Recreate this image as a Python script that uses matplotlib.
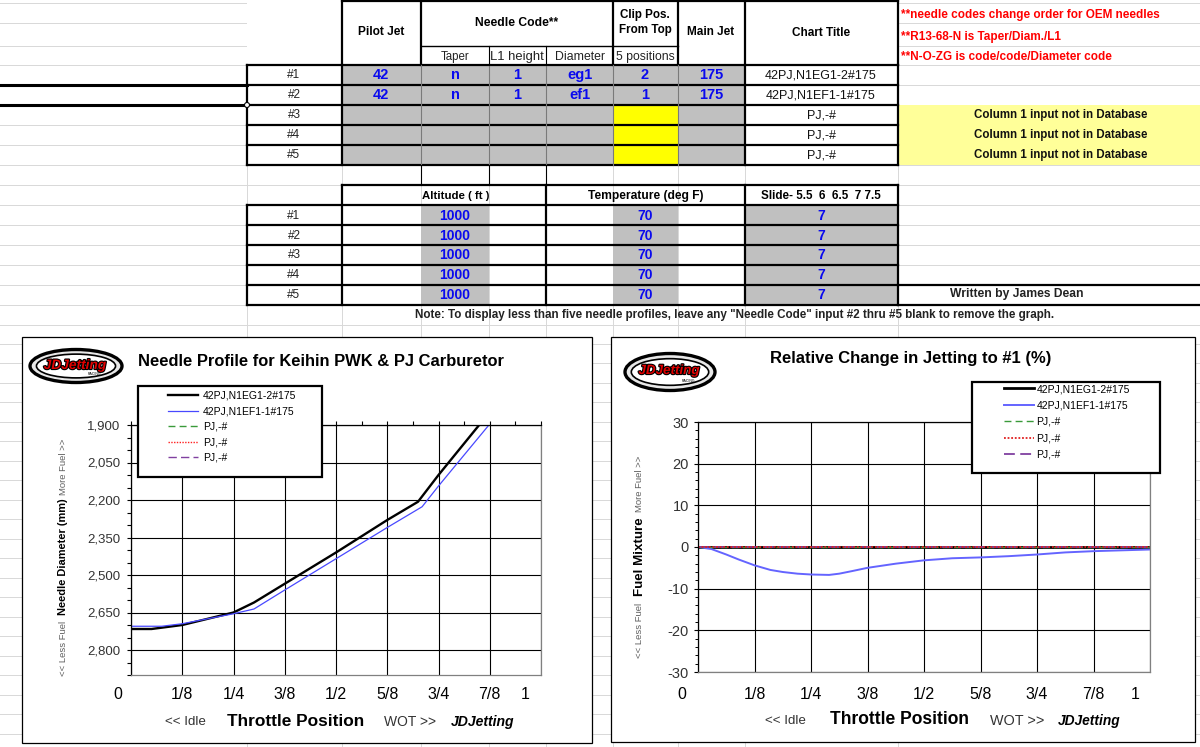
import matplotlib
matplotlib.use('Agg')
import matplotlib.pyplot as plt
from matplotlib.patches import Rectangle, Ellipse, Circle
from matplotlib.ticker import FuncFormatter, MultipleLocator
import matplotlib.transforms as mtransforms
import matplotlib.patheffects as pe
from matplotlib import font_manager

plt.rcParams['font.family'] = ['Liberation Sans', 'DejaVu Sans']
plt.rcParams['axes.unicode_minus'] = False
_names = {f.name for f in font_manager.fontManager.ttflist}
NARROW = 'Liberation Sans Narrow' if 'Liberation Sans Narrow' in _names else 'Liberation Sans'

# ---------------- data ----------------
row_labels = ['#1', '#2', '#3', '#4', '#5']
pilot_jet = ['42', '42', '', '', '']
taper = ['n', 'n', '', '', '']
l1_height = ['1', '1', '', '', '']
diameter = ['eg1', 'ef1', '', '', '']
clip_pos = ['2', '1', '', '', '']
main_jet = ['175', '175', '', '', '']
chart_titles = ['42PJ,N1EG1-2#175', '42PJ,N1EF1-1#175', 'PJ,-#', 'PJ,-#', 'PJ,-#']
db_messages = ['', '', 'Column 1 input not in Database',
               'Column 1 input not in Database', 'Column 1 input not in Database']
altitude = ['1000', '1000', '1000', '1000', '1000']
temperature = ['70', '70', '70', '70', '70']
slide = ['7', '7', '7', '7', '7']
notes = ['**needle codes change order for OEM needles',
         '**R13-68-N is Taper/Diam./L1',
         '**N-O-ZG is code/code/Diameter code']

throttle_ticks = [0, 0.125, 0.25, 0.375, 0.5, 0.625, 0.75, 0.875, 1.0]
throttle_labels = ['0', '1/8', '1/4', '3/8', '1/2', '5/8', '3/4', '7/8', '1']
needle_ticks = [1.9, 2.05, 2.2, 2.35, 2.5, 2.65, 2.8]
rel_ticks = [-30, -20, -10, 0, 10, 20, 30]

# needle profile (diameter, mm) vs throttle position
throttle_1 = [0, 0.05, 0.125, 0.25, 0.30, 0.375, 0.5, 0.625, 0.70, 0.75, 0.875]
needle_1 = [2.716, 2.716, 2.700, 2.650, 2.610, 2.535, 2.410, 2.280, 2.207, 2.100, 1.848]
throttle_2 = [0, 0.075, 0.125, 0.25, 0.30, 0.375, 0.5, 0.625, 0.71, 0.75, 0.875]
needle_2 = [2.705, 2.705, 2.695, 2.655, 2.636, 2.560, 2.435, 2.310, 2.227, 2.144, 1.896]
pj_throttle = []
pj_needle = []

# relative change in jetting to #1 (%)
rel_throttle = [0, 0.03, 0.0625, 0.09, 0.125, 0.16, 0.1875, 0.22, 0.25, 0.29, 0.3125,
                0.34, 0.375, 0.4375, 0.5, 0.5625, 0.625, 0.6875, 0.75, 0.8125,
                0.875, 0.9375, 1.0]
rel_2 = [0, -0.5, -1.8, -3.0, -4.4, -5.5, -6.0, -6.4, -6.6, -6.7, -6.4,
         -5.8, -5.0, -4.0, -3.2, -2.7, -2.5, -2.2, -1.8, -1.3,
         -1.0, -0.8, -0.6]
rel_ref_throttle = [0, 1.0]
rel_1 = [0, 0]
rel_pj = [0, 0]

# ---------------- figure ----------------
fig = plt.figure(figsize=(12, 7.47), dpi=100)
ax0 = fig.add_axes([0, 0, 1, 1], zorder=0)
ax0.set_xlim(0, 1200)
ax0.set_ylim(747, 0)
ax0.axis('off')
renderer = fig.canvas.get_renderer()

THICK = 1.6
THIN = 0.8
GRAY = '#c0c0c0'
BLUE = '#0a0aee'


def hl(y, x0, x1, lw=THIN, c='black', z=2):
    ax0.plot([x0, x1], [y, y], color=c, lw=lw, zorder=z, solid_capstyle='projecting')


def vl(x, y0, y1, lw=THIN, c='black', z=2):
    ax0.plot([x, x], [y0, y1], color=c, lw=lw, zorder=z, solid_capstyle='projecting')


def fill(x0, y0, x1, y1, c):
    ax0.add_patch(Rectangle((x0, y0), x1 - x0, y1 - y0, fc=c, ec='none', zorder=1))


def put(x, y, s, w=None, size=9, rot=0, ha='center', va='center', z=3, **kw):
    t = ax0.text(x, y, s, fontsize=size, ha=ha, va=va, rotation=rot, zorder=z, **kw)
    if w and s:
        bb = t.get_window_extent(renderer)
        cur = bb.height if rot else bb.width
        t.set_fontsize(size * w / cur)
    return t


# spreadsheet gridlines
row_lines = [3, 23, 46] + list(range(65, 330, 20))
y = 324
while y < 747:
    y += 19.5
    row_lines.append(y)
for y in row_lines:
    hl(y, 0, 1200, lw=0.7, c='#d8d8d8', z=0.5)
for x in [247, 342, 421, 489, 546, 613, 678, 745, 898]:
    vl(x, 0, 747, lw=0.7, c='#d8d8d8', z=0.5)

# ---- top table ----
fill(247, 0, 898, 65, 'white')
fill(342, 65, 745, 165, GRAY)
fill(613, 105, 678, 165, '#ffff00')
fill(898, 105, 1200, 165, '#ffff99')
fill(247, 65, 342, 165, 'white')
fill(745, 65, 898, 165, 'white')

hl(1, 342, 898, THICK)
for y in [65, 85, 105, 125, 145, 165]:
    hl(y, 247, 898, THICK)
vl(247, 65, 165, THICK)
for x in [342, 421, 613, 678, 745, 898]:
    vl(x, 1, 65, THICK)
for x in [342, 745, 898]:
    vl(x, 65, 165, THICK)
for x in [421, 489, 546, 613, 678]:
    vl(x, 65, 165, 0.8, '#7a7a7a')
hl(46, 421, 678, 1.0)
for x in [489, 546]:
    vl(x, 46, 65, THIN)
hl(85, 0, 247, 2.2)
hl(105, 0, 247, 2.2)
ax0.add_patch(Circle((247, 105), 2.5, fc='white', ec='black', lw=0.8, zorder=4))

put(381, 32, 'Pilot Jet', w=46, fontweight='bold')
put(517, 23, 'Needle Code**', w=83, fontweight='bold')
put(645, 15, 'Clip Pos.', w=50, fontweight='bold')
put(645, 30, 'From Top', w=53, fontweight='bold')
put(711, 32, 'Main Jet', w=47, fontweight='bold')
put(821, 33, 'Chart Title', w=58, fontweight='bold')
put(455, 57, 'Taper', w=29, color='#222222')
put(517, 57, 'L1 height', w=54, color='#222222')
put(580, 57, 'Diameter', w=50, color='#222222')
put(645, 57, '5 positions', w=59, color='#222222')
for i, (s, w) in enumerate(zip(notes, [257, 160, 209])):
    put(901, [15, 37, 57][i], s, w=w, ha='left', color='#ff0000', fontweight='bold')

ct = None
for i in range(5):
    yc = 75 + 20 * i
    put(294, yc, row_labels[i], size=8.5, color='#222222')
    put(381, yc, pilot_jet[i], size=10.5, color=BLUE, fontweight='bold')
    put(455, yc, taper[i], size=10.5, color=BLUE, fontweight='bold')
    put(517, yc, l1_height[i], size=10.5, color=BLUE, fontweight='bold')
    put(580, yc, diameter[i], size=10.5, color=BLUE, fontweight='bold')
    put(645, yc, clip_pos[i], size=10.5, color=BLUE, fontweight='bold')
    put(711, yc, main_jet[i], size=10.5, color=BLUE, fontweight='bold')
    if ct is None:
        ct = put(821, yc, chart_titles[i], w=112, color='#111111')
    else:
        put(821, yc, chart_titles[i], size=ct.get_fontsize(), color='#111111')
    if db_messages[i]:
        put(1061, yc, db_messages[i], w=173, fontweight='bold', color='#111111')

# ---- second table ----
fill(421, 205, 489, 305, GRAY)
fill(613, 205, 678, 305, GRAY)
fill(745, 205, 898, 305, GRAY)
hl(185, 342, 898, THICK)
for y in [205, 225, 245, 265, 285, 305]:
    hl(y, 247, 898, THICK)
hl(285, 898, 1200, THICK)
hl(305, 898, 1200, THICK)
vl(247, 205, 305, THICK)
for x in [342, 546, 745, 898]:
    vl(x, 185, 305, THICK)
for x in [421, 489, 546]:
    vl(x, 165, 185, THIN)

put(456, 196, 'Altitude ( ft )', w=67, family=NARROW, fontweight='bold')
put(646, 196, 'Temperature (deg F)', w=115, family=NARROW, fontweight='bold')
put(821, 196, 'Slide- 5.5  6  6.5  7 7.5', w=119, family=NARROW, fontweight='bold')
for i in range(5):
    yc = 216 + 19.7 * i
    put(294, yc, row_labels[i], size=8.5, family=NARROW, color='#222222')
    put(455, yc, altitude[i], size=10, family=NARROW, color=BLUE, fontweight='bold')
    put(645, yc, temperature[i], size=10, family=NARROW, color=BLUE, fontweight='bold')
    put(821, yc, slide[i], size=10, family=NARROW, color=BLUE, fontweight='bold')
put(1017, 294, 'Written by James Dean', w=133, family=NARROW, fontweight='bold', color='#222222')
put(735, 315, 'Note: To display less than five needle profiles, leave any "Needle Code" '
    'input #2 thru #5 blank to remove the graph.', w=638, family=NARROW,
    fontweight='bold', color='#222222')

# ---- chart frames ----
ax0.add_patch(Rectangle((22, 337), 570, 406, fc='white', ec='black', lw=0.9, zorder=5))
ax0.add_patch(Rectangle((611, 337), 584, 405, fc='white', ec='black', lw=0.9, zorder=5))


def logo(cx, cy, w, h):
    ax0.add_patch(Ellipse((cx, cy), w, h, fc='#e8e8e8', ec='black', lw=2.4, zorder=6))
    ax0.add_patch(Ellipse((cx, cy), w * 0.86, h * 0.72, fc='white', ec='black', lw=1.2, zorder=6))
    put(cx - 1, cy - 1, 'JDJetting', w=w * 0.68, size=9, z=7, color='#e00000',
        fontweight='bold', style='italic',
        path_effects=[pe.withStroke(linewidth=1.6, foreground='black')])
    put(cx + w * 0.2, cy + h * 0.25, 'RACING', size=2.5, z=7, color='black')


logo(76, 366, 92, 33)
logo(670, 372, 90, 37)

put(321, 361, 'Needle Profile for Keihin PWK & PJ Carburetor', w=366, z=6, fontweight='bold')
put(911, 359, 'Relative Change in Jetting to #1 (%)', w=282, z=6, fontweight='bold')

for (xc, yc, s, w, kw) in [
        (185, 722, '<< Idle', 41, dict(color='#333333')),
        (296, 721, 'Throttle Position', 137, dict(fontweight='bold')),
        (410, 722, 'WOT >>', 52, dict(color='#333333')),
        (483, 722, 'JDJetting', 64, dict(fontweight='bold', style='italic')),
        (785, 721, '<< Idle', 41, dict(color='#333333')),
        (900, 720, 'Throttle Position', 139, dict(fontweight='bold')),
        (1017, 721, 'WOT >>', 54, dict(color='#333333')),
        (1089, 721, 'JDJetting', 63, dict(fontweight='bold', style='italic'))]:
    put(xc, yc, s, w=w, size=10, z=6, **kw)

# rotated y labels
for (xc, yc, s, L, kw) in [
        (63, 557, 'Needle Diameter (mm)', 116, dict(fontweight='bold')),
        (640, 557, 'Fuel Mixture', 79, dict(fontweight='bold'))]:
    put(xc, yc, s, w=L, size=8, rot=90, z=6, **kw)
for (xc, yc, s) in [(63, 648, '<< Less Fuel'), (63, 467, 'More Fuel >>'),
                    (640, 630, '<< Less Fuel'), (640, 484, 'More Fuel >>')]:
    put(xc, yc, s, size=6.8, rot=90, z=6, color='#606060')


# ---------------- charts ----------------
def px_axes(l, t, r, b):
    return fig.add_axes([l / 1200, 1 - b / 747, (r - l) / 1200, (b - t) / 747], zorder=10)


def shift_labels(ax, first_px, last_px):
    labels = ax.get_xticklabels()
    labels[0].set_transform(labels[0].get_transform() +
                            mtransforms.ScaledTranslation(first_px / 100, 0, fig.dpi_scale_trans))
    labels[-1].set_transform(labels[-1].get_transform() +
                             mtransforms.ScaledTranslation(last_px / 100, 0, fig.dpi_scale_trans))


STYLES = [dict(color='black', lw=1.7, ls='-'),
          dict(color='#4848ff', lw=0.9, ls='-'),
          dict(color='#3a9a3a', lw=1.0, ls=(0, (5, 3))),
          dict(color='#ff2020', lw=1.0, ls=(0, (1, 1))),
          dict(color='#8040a0', lw=1.0, ls=(0, (6, 3)))]

# left chart
ax1 = px_axes(131, 425, 541, 675)
ax1.plot(throttle_1, needle_1, label=chart_titles[0], **STYLES[0])
ax1.plot(throttle_2, needle_2, label=chart_titles[1], **STYLES[1])
for k in range(3):
    ax1.plot(pj_throttle, pj_needle, label=chart_titles[2 + k], **STYLES[2 + k])
ax1.set_xlim(0, 1)
ax1.set_ylim(2.9, 1.9)
ax1.set_xticks(throttle_ticks)
ax1.set_xticklabels(throttle_labels)
ax1.xaxis.set_minor_locator(MultipleLocator(1 / 16))
ax1.set_yticks(needle_ticks)
ax1.yaxis.set_major_formatter(FuncFormatter(lambda v, p: f'{v:.3f}'.replace('.', ',')))
ax1.yaxis.set_minor_locator(MultipleLocator(0.05))
ax1.tick_params(axis='x', which='both', top=True, bottom=False, labeltop=False,
                labelbottom=True, direction='out', length=3, width=0.8)
ax1.tick_params(axis='x', which='major', labelsize=11.5, pad=5.5)
ax1.tick_params(axis='y', which='both', left=True, right=False, direction='out',
                length=3, width=0.8, labelsize=9.5, labelcolor='#333333', pad=4.5)
ax1.grid(True, which='major', color='black', lw=0.8)
for side, c in [('left', 'black'), ('top', 'black'), ('right', '#808080'), ('bottom', '#808080')]:
    ax1.spines[side].set_color(c)
    ax1.spines[side].set_linewidth(0.9)
shift_labels(ax1, -13, -16)
ax1.add_patch(Rectangle((138, 386), 184, 91, transform=ax0.transData, fc='white',
                        ec='black', lw=1.6, zorder=4, clip_on=False))
leg1 = ax1.legend(loc='upper left', bbox_to_anchor=(168, 391), bbox_transform=ax0.transData,
                  frameon=False, fontsize=7.5, handlelength=2.9, handletextpad=0.45,
                  labelspacing=0.52, borderpad=0, borderaxespad=0)
leg1.set_zorder(6)

# right chart
ax2 = px_axes(698, 422, 1150, 672)
ax2.plot(rel_ref_throttle, rel_1, label=chart_titles[0], color='black', lw=2.0)
ax2.plot(rel_throttle, rel_2, label=chart_titles[1], color='#6464ff', lw=1.4, ls='-')
ax2.plot(rel_ref_throttle, rel_pj, label=chart_titles[2], **STYLES[2])
ax2.plot(rel_ref_throttle, rel_pj, label=chart_titles[4], color='#8040a0', lw=1.3, ls=(0, (6, 3)))
ax2.plot(rel_ref_throttle, rel_pj, label=chart_titles[3], color='#e02020', lw=1.3, ls=(0, (1, 1)))
ax2.set_xlim(0, 1)
ax2.set_ylim(-30, 30)
ax2.set_xticks(throttle_ticks)
ax2.set_xticklabels(throttle_labels)
ax2.set_yticks(rel_ticks)
ax2.yaxis.set_minor_locator(MultipleLocator(2))
ax2.tick_params(axis='x', which='both', top=False, bottom=False, labelbottom=True,
                length=0, labelsize=11.5, pad=10.5)
ax2.tick_params(axis='y', which='major', direction='out', length=3, width=0.8,
                labelsize=10.5, labelcolor='#333333', pad=3.5)
ax2.tick_params(axis='y', which='minor', direction='out', length=2, width=0.7)
ax2.grid(True, which='major', color='black', lw=0.8)
for side, c in [('left', 'black'), ('top', 'black'), ('right', '#808080'), ('bottom', '#808080')]:
    ax2.spines[side].set_color(c)
    ax2.spines[side].set_linewidth(0.9)
shift_labels(ax2, -16, -15)
ax2.add_patch(Rectangle((972, 382), 188, 91, transform=ax0.transData, fc='white',
                        ec='black', lw=1.6, zorder=4, clip_on=False))
h, l = ax2.get_legend_handles_labels()
order = [0, 1, 2, 4, 3]
leg2 = ax2.legend([h[i] for i in order], [l[i] for i in order], loc='upper left',
                  bbox_to_anchor=(1004, 384), bbox_transform=ax0.transData,
                  frameon=False, fontsize=7.5, handlelength=2.9, handletextpad=0.2,
                  labelspacing=0.62, borderpad=0, borderaxespad=0)
leg2.set_zorder(6)

fig.savefig('out.png', dpi=100)
